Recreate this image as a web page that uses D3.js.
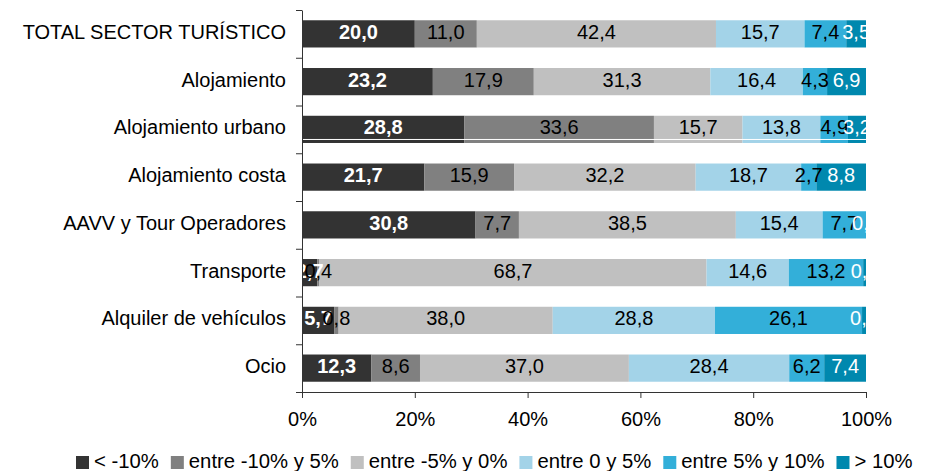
<!DOCTYPE html>
<html>
<head>
<meta charset="utf-8">
<script src="https://cdn.jsdelivr.net/npm/d3@7"></script>
<style>
  html, body { margin: 0; padding: 0; background: #fff; }
  svg { display: block; font-family: "Liberation Sans", Arial, sans-serif; }
</style>
</head>
<body>
<svg id="chart" width="940" height="471"></svg>
<script>
//

const categories = [
  'TOTAL SECTOR TURÍSTICO',
  'Alojamiento',
  'Alojamiento urbano',
  'Alojamiento costa',
  'AAVV y Tour Operadores',
  'Transporte',
  'Alquiler de vehículos',
  'Ocio'
]

const seriesNames = [
  '< -10%',
  'entre -10% y 5%',
  'entre -5% y 0%',
  'entre 0 y 5%',
  'entre 5% y 10%',
  '> 10%'
]

const lessThanMinus10 = [20.0, 23.2, 28.8, 21.7, 30.8, 2.7, 5.7, 12.3]
const minus10To5 = [11.0, 17.9, 33.6, 15.9, 7.7, 0.4, 0.8, 8.6]
const minus5To0 = [42.4, 31.3, 15.7, 32.2, 38.5, 68.7, 38.0, 37.0]
const zeroTo5 = [15.7, 16.4, 13.8, 18.7, 15.4, 14.6, 28.8, 28.4]
const from5To10 = [7.4, 4.3, 4.9, 2.7, 7.7, 13.2, 26.1, 6.2]
const moreThan10 = [3.5, 6.9, 3.2, 8.8, 0.0, 0.5, 0.7, 7.4]

const xTicks = [0, 0.2, 0.4, 0.6, 0.8, 1]

//

const seriesValues = [lessThanMinus10, minus10To5, minus5To0, zeroTo5, from5To10, moreThan10]
const colors = ['#333333', '#808080', '#c0c0c0', '#a3d3e8', '#33afd9', '#0088ae']
const labelColors = ['#fff', '#000', '#000', '#000', '#000', '#fff']
const labelWeights = ['bold', 'normal', 'normal', 'normal', 'normal', 'normal']

const rows = categories.map((c, i) => {
  const row = { category: c }
  seriesNames.forEach((s, k) => { row[s] = seriesValues[k][i] })
  return row
})

const stacked = d3.stack()
  .keys(seriesNames)
  .offset(d3.stackOffsetExpand)(rows)

const margin = { top: 10, left: 302, right: 74, bottom: 79 }
const width = 940
const height = 471
const plotW = width - margin.left - margin.right
const plotH = height - margin.top - margin.bottom

const svg = d3.select('#chart')

const x = d3.scaleLinear().domain([0, 1]).range([0, plotW])
const y = d3.scaleBand()
  .domain(categories)
  .range([0, plotH])
  .paddingInner(0.43)
  .paddingOuter(0.215)

const g = svg.append('g').attr('transform', `translate(${margin.left},${margin.top})`)

svg.append('defs').append('clipPath').attr('id', 'plotClip')
  .append('rect').attr('x', 0).attr('y', -5).attr('width', plotW).attr('height', plotH + 10)

// bars
const layers = g.append('g').selectAll('g')
  .data(stacked)
  .join('g')
  .attr('fill', (d, k) => colors[k])

layers.selectAll('rect')
  .data(d => d)
  .join('rect')
  .attr('x', d => x(d[0]))
  .attr('width', d => x(d[1]) - x(d[0]))
  .attr('y', d => y(d.data.category))
  .attr('height', y.bandwidth())

// thin white line seen across the urbano bar
g.append('line')
  .attr('x1', 0)
  .attr('x2', plotW)
  .attr('y1', y(categories[2]) + y.bandwidth() - 3.5)
  .attr('y2', y(categories[2]) + y.bandwidth() - 3.5)
  .attr('stroke', '#fff')
  .attr('stroke-width', 1)

// labels
const fmt = v => d3.format('.1f')(v).replace('.', ',')

const labels = g.append('g').attr('clip-path', 'url(#plotClip)')
stacked.forEach((layer, k) => {
  labels.append('g').selectAll('text')
    .data(layer)
    .join('text')
    .attr('x', d => (x(d[0]) + x(d[1])) / 2)
    .attr('y', d => y(d.data.category) + y.bandwidth() / 2 + 5)
    .attr('text-anchor', 'middle')
    .attr('font-size', 20)
    .attr('font-weight', labelWeights[k])
    .attr('fill', labelColors[k])
    .text((d, i) => fmt(seriesValues[k][i]))
})

// axes
const yTicks = d3.scaleLinear().domain([0, categories.length]).range([0, plotH])
g.append('g')
  .call(d3.axisLeft(yTicks).ticks(categories.length).tickFormat('').tickSize(6).tickSizeOuter(0))
  .call(s => s.selectAll('path, line').attr('stroke', '#333'))

g.append('g')
  .attr('transform', `translate(0,${plotH})`)
  .call(d3.axisBottom(x).tickValues(xTicks).tickFormat(d3.format('.0%')).tickSize(6).tickSizeOuter(0))
  .call(s => s.selectAll('path, line').attr('stroke', '#333'))
  .call(s => s.selectAll('text')
    .attr('font-size', 20)
    .attr('font-family', '"Liberation Sans", Arial, sans-serif')
    .attr('fill', '#000')
    .attr('dy', null)
    .attr('y', 34))

// category labels
g.append('g').selectAll('text')
  .data(categories)
  .join('text')
  .attr('x', -16)
  .attr('y', d => y(d) + y.bandwidth() / 2 + 5)
  .attr('text-anchor', 'end')
  .attr('font-size', 20)
  .attr('fill', '#000')
  .text(d => d)

// legend
const legend = svg.append('g').attr('transform', 'translate(76,456)')
let lx = 0
seriesNames.forEach((name, k) => {
  const item = legend.append('g').attr('transform', `translate(${lx},0)`)
  item.append('rect').attr('width', 13).attr('height', 13).attr('fill', colors[k])
  const t = item.append('text')
    .attr('x', 18)
    .attr('y', 12)
    .attr('font-size', 20.3)
    .attr('fill', '#000')
    .text(name)
  lx += 18 + t.node().getComputedTextLength() + 12
})
</script>
</body>
</html>
